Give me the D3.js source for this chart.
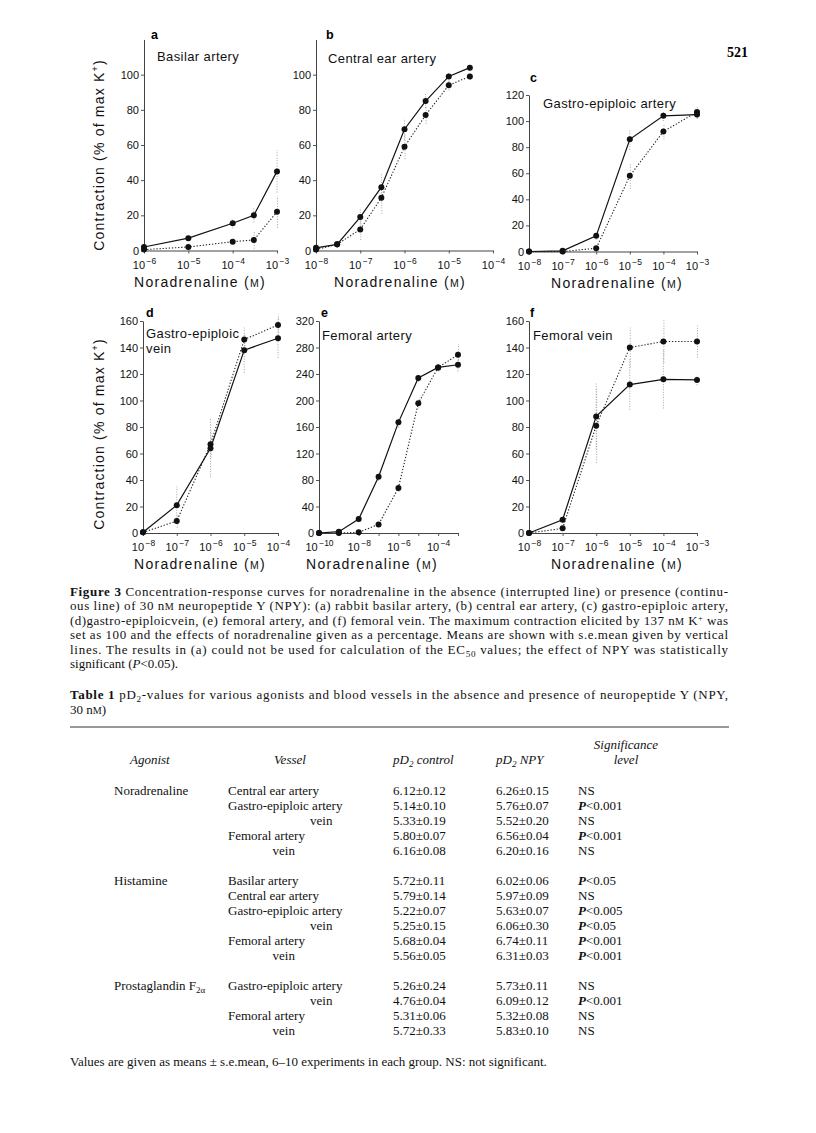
<!DOCTYPE html>
<html><head><meta charset="utf-8">
<script src="https://cdn.jsdelivr.net/npm/d3@7"></script>
<style>body{margin:0;background:#fff}svg{display:block}</style>
</head><body>
<svg id="c" width="816" height="1133"></svg>
<script>
// ---------------- DATA ----------------
// (a) Basilar artery
const aConc = [1e-6, 1e-5, 1e-4, 3e-4, 1e-3];
const aSolid = [2, 7, 15.5, 20, 45];
const aDotted = [0.5, 2, 5, 6, 22];
const aSolidErr = [0.5, 1, 3, 4, 12];
const aDottedErr = [0.3, 0.5, 1, 5, 9];
const aTickExp = [-6, -5, -4, -3];
// (b) Central ear artery
const bConc = [1e-8, 3e-8, 1e-7, 3e-7, 1e-6, 3e-6, 1e-5, 3e-5];
const bSolid = [1.5, 3.5, 19, 36, 69, 85, 99, 104];
const bDotted = [0.5, 3.5, 12, 30, 59, 77, 94, 99];
const bSolidErr = [1, 2, 5, 8, 6, 4, 3, 2];
const bDottedErr = [0.5, 2, 6, 9, 7, 5, 3, 2];
const bTickExp = [-8, -7, -6, -5, -4];
// (c) Gastro-epiploic artery
const cConc = [1e-8, 1e-7, 1e-6, 1e-5, 1e-4, 1e-3];
const cSolid = [0, 0.5, 12, 86, 104, 105];
const cDotted = [0, 0, 2.5, 58, 92, 107];
const cSolidErr = [0, 0.5, 3, 8, 4, 3];
const cDottedErr = [0, 0, 1.5, 10, 6, 5];
const cTickExp = [-8, -7, -6, -5, -4, -3];
// (d) Gastro-epiploic vein
const dConc = [1e-8, 1e-7, 1e-6, 1e-5, 1e-4];
const dSolid = [0.5, 21, 64, 138, 147];
const dDotted = [0.5, 9, 67, 146, 157];
const dSolidErr = [0, 14, 22, 17, 15];
const dDottedErr = [0, 5, 10, 5, 8];
const dTickExp = [-8, -7, -6, -5, -4];
// (e) Femoral artery
const eConc = [1e-10, 1e-9, 1e-8, 1e-7, 1e-6, 1e-5, 1e-4, 1e-3];
const eSolid = [0, 2, 21, 85, 167, 234, 250, 254];
const eDotted = [0, 0, 1, 13, 68, 196, 250, 269];
const eSolidErr = [0, 1, 3, 6, 8, 6, 5, 10];
const eDottedErr = [0, 0, 1, 3, 6, 8, 6, 16];
const eTickExp = [-10, -8, -6, -4];
// (f) Femoral vein
const fConc = [1e-8, 1e-7, 1e-6, 1e-5, 1e-4, 1e-3];
const fSolid = [0, 10, 88, 112, 116, 115.5];
const fDotted = [0, 3.5, 81, 140, 144.5, 144.5];
const fSolidErr = [0, 2, 25, 19, 22, 4];
const fDottedErr = [0, 2, 28, 15, 16, 12];
const fTickExp = [-8, -7, -6, -5, -4, -3];

const yTicks100 = [0, 20, 40, 60, 80, 100];
const yTicks120 = [0, 20, 40, 60, 80, 100, 120];
const yTicks160 = [0, 20, 40, 60, 80, 100, 120, 140, 160];
const yTicks320 = [0, 40, 80, 120, 160, 200, 240, 280, 320];

// Table data (row slots; null slots are blank separator rows)
const tAgonists = ["Noradrenaline", "", "", "", "", null, "Histamine", "", "", "", "", "", null, "Prostaglandin F", "", "", ""];
const tVessels = ["Central ear artery", "Gastro-epiploic artery", "vein", "Femoral artery", "vein", null,
  "Basilar artery", "Central ear artery", "Gastro-epiploic artery", "vein", "Femoral artery", "vein", null,
  "Gastro-epiploic artery", "vein", "Femoral artery", "vein"];
const tControl = ["6.12±0.12", "5.14±0.10", "5.33±0.19", "5.80±0.07", "6.16±0.08", null,
  "5.72±0.11", "5.79±0.14", "5.22±0.07", "5.25±0.15", "5.68±0.04", "5.56±0.05", null,
  "5.26±0.24", "4.76±0.04", "5.31±0.06", "5.72±0.33"];
const tNPY = ["6.26±0.15", "5.76±0.07", "5.52±0.20", "6.56±0.04", "6.20±0.16", null,
  "6.02±0.06", "5.97±0.09", "5.63±0.07", "6.06±0.30", "6.74±0.11", "6.31±0.03", null,
  "5.73±0.11", "6.09±0.12", "5.32±0.08", "5.83±0.10"];
const tSig = ["NS", "P<0.001", "NS", "P<0.001", "NS", null,
  "P<0.05", "NS", "P<0.005", "P<0.05", "P<0.001", "P<0.001", null,
  "NS", "P<0.001", "NS", "NS"];

// ---------------- LAYOUT ----------------
const SANS = "'Liberation Sans', Arial, Helvetica, sans-serif";
const SERIF = "'Liberation Serif', 'Times New Roman', serif";
const svg = d3.select('#c');

const panels = [
  {letter:'a', title:['Basilar artery'], conc:aConc, solid:aSolid, dotted:aDotted, se:aSolidErr, de:aDottedErr, tickExp:aTickExp,
   xDomain:[1e-6,1e-3], yDomain:[0,120], yTicks:yTicks100, left:144, right:277, bottom:250.5, top:39.5,
   lx:151, ly:39, tx:157, ty:61, xlabX:200},
  {letter:'b', title:['Central ear artery'], conc:bConc, solid:bSolid, dotted:bDotted, se:bSolidErr, de:bDottedErr, tickExp:bTickExp,
   xDomain:[1e-8,1e-4], yDomain:[0,120], yTicks:yTicks100, left:316, right:493, bottom:250.5, top:39.5,
   lx:326, ly:39, tx:328, ty:63, xlabX:400},
  {letter:'c', title:['Gastro-epiploic artery'], conc:cConc, solid:cSolid, dotted:cDotted, se:cSolidErr, de:cDottedErr, tickExp:cTickExp,
   xDomain:[1e-8,1e-3], yDomain:[0,120], yTicks:yTicks120, left:529, right:697, bottom:251.5, top:95,
   lx:530, ly:82, tx:543, ty:108, xlabX:617},
  {letter:'d', title:['Gastro-epiploic','vein'], conc:dConc, solid:dSolid, dotted:dDotted, se:dSolidErr, de:dDottedErr, tickExp:dTickExp,
   xDomain:[1e-8,1e-4], yDomain:[0,160], yTicks:yTicks160, left:143, right:278, bottom:533, top:321,
   lx:146, ly:317, tx:146, ty:338, xlabX:200},
  {letter:'e', title:['Femoral artery'], conc:eConc, solid:eSolid, dotted:eDotted, se:eSolidErr, de:eDottedErr, tickExp:eTickExp,
   xDomain:[1e-10,1e-3], yDomain:[0,320], yTicks:yTicks320, left:319, right:458, bottom:533, top:321,
   lx:321, ly:317, tx:322, ty:340, xlabX:372},
  {letter:'f', title:['Femoral vein'], conc:fConc, solid:fSolid, dotted:fDotted, se:fSolidErr, de:fDottedErr, tickExp:fTickExp,
   xDomain:[1e-8,1e-3], yDomain:[0,160], yTicks:yTicks160, left:529, right:697, bottom:533, top:321,
   lx:530, ly:317, tx:533, ty:340, xlabX:617}
];

function drawPanel(p) {
  const g = svg.append('g');
  const x = d3.scaleLog().domain(p.xDomain).range([p.left, p.right]);
  const y = d3.scaleLinear().domain(p.yDomain).range([p.bottom, p.top]);

  const yg = g.append('g').attr('transform', `translate(${p.left},0)`)
    .call(d3.axisLeft(y).tickValues(p.yTicks).tickSize(3).tickPadding(2).tickFormat(d3.format('d')).tickSizeOuter(0));
  yg.attr('font-family', SANS).attr('font-size', 11);
  yg.select('.domain').attr('stroke', '#444').attr('stroke-width', 1);
  yg.selectAll('.tick line').attr('stroke', '#555');
  yg.selectAll('.tick text').attr('fill', '#111');

  const e0 = Math.round(Math.log10(p.xDomain[0])), e1 = Math.round(Math.log10(p.xDomain[1]));
  const decades = d3.range(e0, e1 + 1).map(e => Math.pow(10, e));
  const xg = g.append('g').attr('transform', `translate(0,${p.bottom})`)
    .call(d3.axisBottom(x).tickValues(decades).tickSize(3).tickPadding(4).tickFormat(() => '').tickSizeOuter(0));
  xg.attr('font-family', SANS).attr('font-size', 11);
  xg.select('.domain').attr('stroke', '#444').attr('stroke-width', 1);
  xg.selectAll('.tick line').attr('stroke', '#555');
  xg.selectAll('.tick text').attr('fill', '#111').each(function(d) {
    const ex = Math.round(Math.log10(d));
    if (!p.tickExp.includes(ex)) return;
    const t = d3.select(this).attr('dy', '1em');
    t.append('tspan').text('10');
    t.append('tspan').attr('dy', -5).attr('dx', 1.5).attr('font-size', 8.5).text('−' + (-ex));
  });

  const eb = g.append('g').attr('stroke', '#9a9a9a').attr('stroke-width', 0.9).attr('stroke-dasharray', '1,1.6');
  p.conc.forEach((c, i) => {
    if (p.se[i] > 0) eb.append('line').attr('x1', x(c)).attr('x2', x(c))
      .attr('y1', y(Math.max(0, p.solid[i] - p.se[i]))).attr('y2', y(p.solid[i] + p.se[i]));
    if (p.de[i] > 0) eb.append('line').attr('x1', x(c) + 0.5).attr('x2', x(c) + 0.5)
      .attr('y1', y(Math.max(0, p.dotted[i] - p.de[i]))).attr('y2', y(p.dotted[i] + p.de[i]));
  });

  const lineS = d3.line().x((d, i) => x(p.conc[i])).y(d => y(d));
  g.append('path').datum(p.dotted).attr('d', lineS).attr('fill', 'none')
    .attr('stroke', '#222').attr('stroke-width', 1.1).attr('stroke-dasharray', '1.3,1.8');
  g.append('path').datum(p.solid).attr('d', lineS).attr('fill', 'none')
    .attr('stroke', '#111').attr('stroke-width', 1.2);

  g.selectAll('circle.d').data(p.dotted).enter().append('circle')
    .attr('cx', (d, i) => x(p.conc[i])).attr('cy', d => y(d)).attr('r', 3).attr('fill', '#111');
  g.selectAll('circle.s').data(p.solid).enter().append('circle')
    .attr('cx', (d, i) => x(p.conc[i])).attr('cy', d => y(d)).attr('r', 3).attr('fill', '#111');

  g.append('text').attr('x', p.lx).attr('y', p.ly).attr('font-family', SANS).attr('font-weight', 'bold')
    .attr('font-size', 12.5).text(p.letter);
  p.title.forEach((t, i) => {
    g.append('text').attr('x', p.tx).attr('y', p.ty + i * 15).attr('font-family', SANS)
      .attr('font-size', 13).attr('letter-spacing', 0.4).attr('fill', '#111').text(t);
  });

  const xl = g.append('text').attr('x', p.xlabX).attr('y', p.bottom + 36).attr('text-anchor', 'middle')
    .attr('font-family', SANS).attr('font-size', 14).attr('letter-spacing', 1.3).attr('fill', '#111');
  xl.append('tspan').text('Noradrenaline (');
  xl.append('tspan').attr('font-size', 10.5).text('M');
  xl.append('tspan').text(')');
}
panels.forEach(drawPanel);

[155, 434].forEach(cy => {
  const t = svg.append('text').attr('transform', `translate(104,${cy}) rotate(-90)`).attr('text-anchor', 'middle')
    .attr('font-family', SANS).attr('font-size', 14).attr('letter-spacing', 1.2).attr('fill', '#111');
  t.append('tspan').text('Contraction (% of max K');
  t.append('tspan').attr('font-size', 9).attr('dy', -6).text('+');
  t.append('tspan').attr('dy', 6).text(')');
});

svg.append('text').attr('x', 727).attr('y', 57).attr('font-family', SERIF).attr('font-weight', 'bold')
  .attr('font-size', 14).text('521');

// ---------------- CAPTION ----------------
const CAP_X = 70, CAP_W = 658, FS = 13;
function capLine(y, parts, justify) {
  const t = svg.append('text').attr('x', CAP_X).attr('y', y).attr('font-family', SERIF).attr('font-size', FS).attr('fill', '#111');
  if (justify) t.attr('textLength', CAP_W).attr('lengthAdjust', 'spacing');
  parts.forEach(pt => {
    const s = t.append('tspan').text(pt.t);
    if (pt.b) s.attr('font-weight', 'bold');
    if (pt.i) s.attr('font-style', 'italic');
    if (pt.sc) s.attr('font-size', FS * 0.78);
    if (pt.sub) s.attr('font-size', FS * 0.7).attr('dy', 3);
    if (pt.up) s.attr('dy', pt.up);
    if (pt.sup) s.attr('font-size', FS * 0.65).attr('dy', -4);
  });
  return t;
}
const capY = [596, 610.4, 624.8, 639.2, 653.6, 668];
capLine(capY[0], [{t:'Figure 3', b:1}, {t:'  Concentration-response curves for noradrenaline in the absence (interrupted line) or presence (continu-'}], true);
capLine(capY[1], [{t:'ous line) of 30 n'}, {t:'M', sc:1}, {t:' neuropeptide Y (NPY): (a) rabbit basilar artery, (b) central ear artery, (c) gastro-epiploic artery,'}], true);
capLine(capY[2], [{t:'(d)gastro-epiploicvein, (e) femoral artery, and (f) femoral vein. The maximum contraction elicited by 137 n'}, {t:'M', sc:1}, {t:' K'}, {t:'+', sup:1}, {t:' was', up:4}], true);
capLine(capY[3], [{t:'set as 100 and the effects of noradrenaline given as a percentage. Means are shown with s.e.mean given by vertical'}], true);
capLine(capY[4], [{t:'lines. The results in (a) could not be used for calculation of the EC'}, {t:'50', sub:1}, {t:' values; the effect of NPY was statistically', up:-3}], true);
capLine(capY[5], [{t:'significant ('}, {t:'P', i:1}, {t:'<0.05).'}], false);

capLine(699, [{t:'Table 1', b:1}, {t:'  pD'}, {t:'2', sub:1}, {t:'-values for various agonists and blood vessels in the absence and presence of neuropeptide Y (NPY,', up:-3}], true);
capLine(713.5, [{t:'30 n'}, {t:'M', sc:1}, {t:')'}], false);

svg.append('line').attr('x1', 70).attr('x2', 729).attr('y1', 727).attr('y2', 727)
  .attr('stroke', '#333').attr('stroke-width', 1.2);

// ---------------- TABLE ----------------
const COL = {ag:114, agHead:130, ves:228, vesHead:290, ctl:393, npy:496, sig:578, sigC:626};
function tText(x, y, anchor) {
  return svg.append('text').attr('x', x).attr('y', y).attr('text-anchor', anchor || 'start')
    .attr('font-family', SERIF).attr('font-size', FS).attr('fill', '#111');
}
tText(COL.sigC, 749, 'middle').attr('font-style', 'italic').text('Significance');
tText(COL.agHead, 764).attr('font-style', 'italic').text('Agonist');
tText(COL.vesHead, 764, 'middle').attr('font-style', 'italic').text('Vessel');
(function(){ const t = tText(COL.ctl, 764).attr('font-style', 'italic');
  t.append('tspan').text('pD'); t.append('tspan').attr('font-size', 9).attr('dy', 3).text('2'); t.append('tspan').attr('dy', -3).text(' control'); })();
(function(){ const t = tText(COL.npy, 764).attr('font-style', 'italic');
  t.append('tspan').text('pD'); t.append('tspan').attr('font-size', 9).attr('dy', 3).text('2'); t.append('tspan').attr('dy', -3).text(' NPY'); })();
tText(COL.sigC, 764, 'middle').attr('font-style', 'italic').text('level');

const ROW0 = 794.5, ROWH = 15;
let lastArteryEnd = 0;
tVessels.forEach((v, i) => {
  if (v === null) return;
  const y = ROW0 + i * ROWH;
  if (tAgonists[i]) {
    const t = tText(COL.ag, y);
    t.append('tspan').text(tAgonists[i]);
    if (tAgonists[i].startsWith('Prostaglandin')) t.append('tspan').attr('font-size', 9).attr('dy', 3).text('2α');
  }
  if (v === 'vein') {
    tText(lastArteryEnd - 10, y, 'end').text(v);
  } else {
    const t = tText(COL.ves, y).text(v);
    lastArteryEnd = COL.ves + t.node().getComputedTextLength();
  }
  tText(COL.ctl, y).text(tControl[i]);
  tText(COL.npy, y).text(tNPY[i]);
  const s = tSig[i];
  const st = tText(COL.sig, y);
  if (s.startsWith('P')) { st.append('tspan').attr('font-style', 'italic').attr('font-weight', 'bold').text('P'); st.append('tspan').text(s.slice(1)); }
  else st.text(s);
});

tText(70, 1066).text('Values are given as means ± s.e.mean, 6–10 experiments in each group. NS: not significant.');
</script>
</body></html>
